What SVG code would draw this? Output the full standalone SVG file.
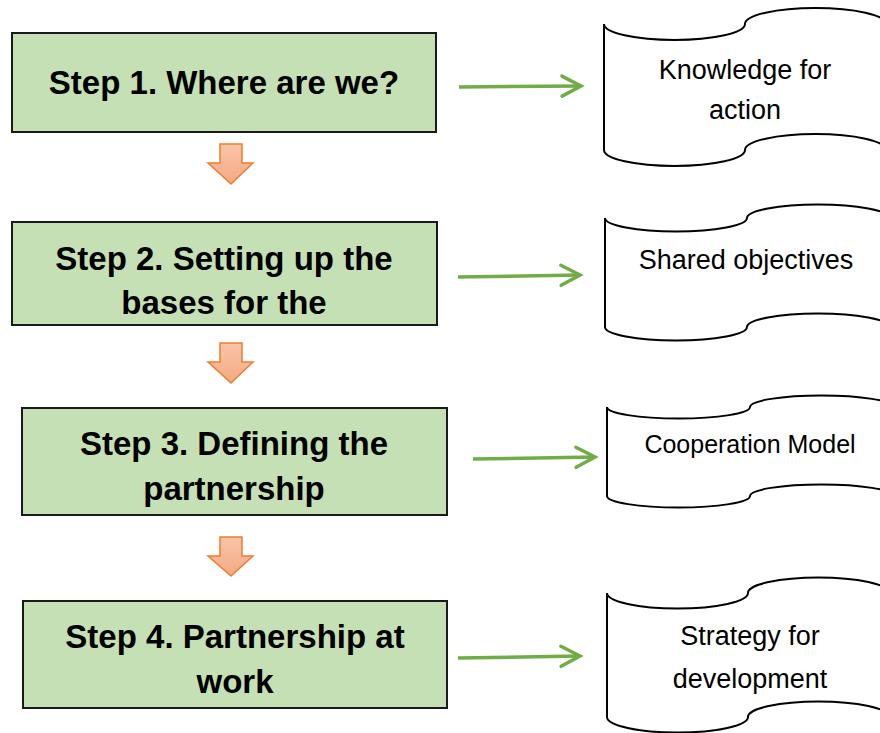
<svg xmlns="http://www.w3.org/2000/svg" width="880" height="733" viewBox="0 0 880 733">
<defs>
<linearGradient id="og" x1="0" y1="0" x2="0" y2="1">
<stop offset="0" stop-color="#F8C5A8"/>
<stop offset="1" stop-color="#F4A983"/>
</linearGradient>
<marker id="ah" markerWidth="24" markerHeight="24" refX="0" refY="0" orient="auto" markerUnits="userSpaceOnUse" viewBox="-22 -12 24 24" overflow="visible">
<path d="M-19,-10 L0,0 L-19,10" fill="none" stroke="#70AD47" stroke-width="3.5" stroke-linecap="round" stroke-linejoin="miter"/>
</marker>
<style>
.box{fill:#C5E0B4;stroke:#1a1a1a;stroke-width:2}
.tape{fill:#ffffff;stroke:#000;stroke-width:2}
.bt{font-family:"Liberation Sans",Arial,sans-serif;font-weight:bold;font-size:33px;fill:#000;text-anchor:middle}
.rt{font-family:"Liberation Sans",Arial,sans-serif;font-size:27px;fill:#000;text-anchor:middle}
.ga{stroke:#70AD47;stroke-width:3.5;fill:none}
.oa{fill:url(#og);stroke:#ED7D31;stroke-width:1.5}
</style>
</defs>
<rect width="880" height="733" fill="#ffffff"/>

<g id="step1">
<rect class="box" x="12" y="33" width="424" height="99"/>
<text class="bt" x="224" y="94">Step 1. Where are we?</text>
</g>
<g id="step2">
<rect class="box" x="12" y="222" width="425" height="103"/>
<text class="bt" x="224" y="270">Step 2. Setting up the</text>
<text class="bt" x="224" y="314">bases for the</text>
</g>
<g id="step3">
<rect class="box" x="22" y="408" width="425" height="107"/>
<text class="bt" x="234" y="455">Step 3. Defining the</text>
<text class="bt" x="234" y="500">partnership</text>
</g>
<g id="step4">
<rect class="box" x="23" y="601" width="424" height="107"/>
<text class="bt" x="235" y="648">Step 4. Partnership at</text>
<text class="bt" x="235" y="693">work</text>
</g>

<g id="out1">
<path class="tape" d="M604,24 A70.5,16 0 0 0 745,24 A70.5,16 0 0 1 886,24 L886,150 A70.5,16 0 0 0 745,150 A70.5,16 0 0 1 604,150 Z"/>
<text class="rt" x="745" y="79">Knowledge for</text>
<text class="rt" x="745" y="119">action</text>
</g>
<g id="out2">
<path class="tape" d="M605,218 A71,13.5 0 0 0 747,218 A71,13.5 0 0 1 889,218 L889,327 A71,13.5 0 0 0 747,327 A71,13.5 0 0 1 605,327 Z"/>
<text class="rt" x="746" y="269">Shared objectives</text>
</g>
<g id="out3">
<path class="tape" d="M607,407 A71.5,11.5 0 0 0 750,407 A71.5,11.5 0 0 1 893,407 L893,496 A71.5,11.5 0 0 0 750,496 A71.5,11.5 0 0 1 607,496 Z"/>
<text class="rt" x="750" y="453" style="font-size:25px">Cooperation Model</text>
</g>
<g id="out4">
<path class="tape" d="M607,593 A70.5,15.5 0 0 0 748,593 A70.5,15.5 0 0 1 889,593 L889,717 A70.5,15.5 0 0 0 748,717 A70.5,15.5 0 0 1 607,717 Z"/>
<text class="rt" x="750" y="645">Strategy for</text>
<text class="rt" x="750" y="688">development</text>
</g>

<g id="connectors">
<line class="ga" x1="459" y1="87" x2="581" y2="86" marker-end="url(#ah)"/>
<line class="ga" x1="458" y1="277" x2="580" y2="275" marker-end="url(#ah)"/>
<line class="ga" x1="473" y1="459" x2="595" y2="457" marker-end="url(#ah)"/>
<line class="ga" x1="458" y1="658" x2="580" y2="656" marker-end="url(#ah)"/>
<path class="oa" d="M220,144 H242 V163 H253 L231,184 L208,163 H220 Z"/>
<path class="oa" d="M220,343 H242 V362 H253 L231,383 L208,362 H220 Z"/>
<path class="oa" d="M220,537 H242 V556 H253 L231,576 L208,556 H220 Z"/>
</g>
</svg>
